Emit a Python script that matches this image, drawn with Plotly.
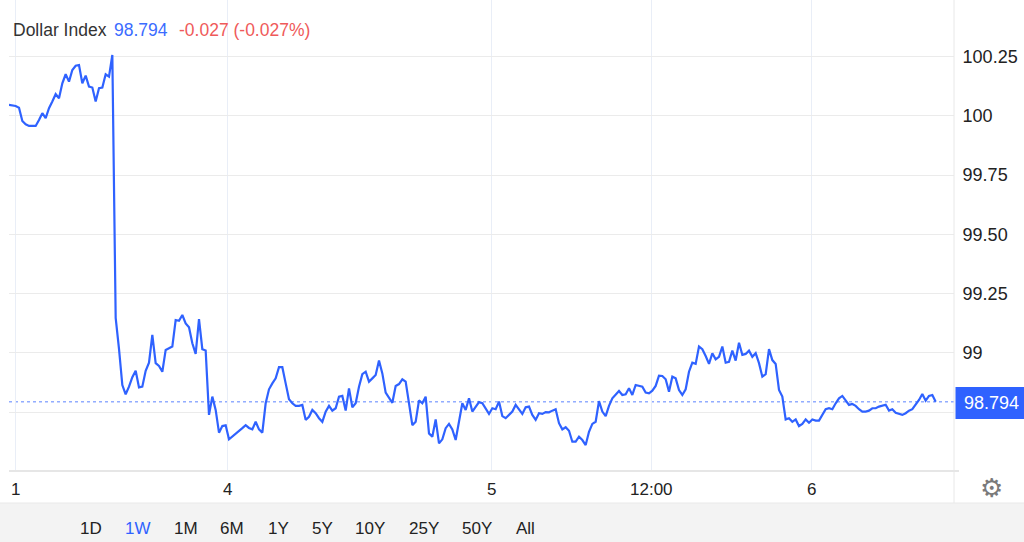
import plotly.graph_objects as go

# ---------------- data ----------------
title_name = "Dollar Index"
last_value = 98.794
change_text = "-0.027 (-0.027%)"

dxy = [
    100.046, 100.043, 100.041, 100.034, 99.978, 99.964, 99.957, 99.957, 99.957, 99.982,
    100.011, 99.990, 100.032, 100.060, 100.091, 100.074, 100.137, 100.175, 100.144, 100.193,
    100.211, 100.214, 100.137, 100.169, 100.123, 100.119, 100.060, 100.116, 100.119, 100.175,
    100.165, 100.256, 99.148, 99.017, 98.865, 98.826, 98.858, 98.898, 98.925, 98.855,
    98.858, 98.925, 98.959, 99.076, 98.957, 98.945, 98.921, 99.013, 99.020, 99.027,
    99.139, 99.136, 99.160, 99.125, 99.108, 99.041, 98.996, 99.143, 99.016, 99.010,
    98.739, 98.816, 98.760, 98.664, 98.692, 98.695, 98.636, 98.647, 98.659, 98.668,
    98.683, 98.696, 98.684, 98.678, 98.710, 98.678, 98.664, 98.788, 98.847, 98.872,
    98.893, 98.940, 98.940, 98.872, 98.805, 98.788, 98.777, 98.777, 98.781, 98.718,
    98.731, 98.760, 98.746, 98.725, 98.710, 98.753, 98.777, 98.757, 98.767, 98.816,
    98.819, 98.757, 98.851, 98.771, 98.788, 98.858, 98.911, 98.921, 98.879, 98.893,
    98.907, 98.968, 98.914, 98.833, 98.809, 98.790, 98.861, 98.869, 98.889, 98.879,
    98.788, 98.696, 98.710, 98.800, 98.788, 98.816, 98.661, 98.647, 98.720, 98.619,
    98.636, 98.683, 98.701, 98.678, 98.633, 98.710, 98.788, 98.760, 98.809, 98.753,
    98.774, 98.793, 98.788, 98.763, 98.743, 98.767, 98.763, 98.795, 98.734, 98.725,
    98.739, 98.753, 98.781, 98.763, 98.743, 98.771, 98.774, 98.739, 98.718, 98.746,
    98.743, 98.751, 98.750, 98.757, 98.763, 98.704, 98.678, 98.687, 98.672, 98.626,
    98.626, 98.647, 98.633, 98.612, 98.668, 98.701, 98.710, 98.797, 98.753, 98.734,
    98.777, 98.809, 98.823, 98.840, 98.823, 98.826, 98.851, 98.823, 98.865, 98.861,
    98.858, 98.833, 98.830, 98.841, 98.861, 98.904, 98.903, 98.889, 98.837, 98.900,
    98.893, 98.844, 98.823, 98.847, 98.921, 98.959, 98.954, 99.027, 99.016, 98.987,
    98.954, 98.999, 98.973, 98.984, 99.027, 98.959, 98.963, 99.010, 98.968, 99.043,
    98.992, 98.996, 99.010, 98.984, 98.999, 98.957, 98.900, 98.911, 99.016, 98.970,
    98.954, 98.844, 98.816, 98.720, 98.725, 98.710, 98.720, 98.692, 98.701, 98.720,
    98.706, 98.720, 98.715, 98.715, 98.739, 98.763, 98.767, 98.763, 98.788, 98.809,
    98.819, 98.799, 98.781, 98.785, 98.777, 98.763, 98.753, 98.753, 98.757, 98.767,
    98.767, 98.774, 98.777, 98.782, 98.757, 98.763, 98.748, 98.743, 98.739, 98.746,
    98.757, 98.763, 98.781, 98.802, 98.827, 98.799, 98.819, 98.823, 98.794,
]
sample_index = list(range(len(dxy)))

x_tick_pos = [1.9, 65.5, 144.7, 192.7, 240.7]
x_tick_text = ["1", "4", "5", "12:00", "6"]

y_tick_vals = [98.75, 99.0, 99.25, 99.5, 99.75, 100.0, 100.25]
y_tick_text = ["", "99", "99.25", "99.50", "99.75", "100", "100.25"]

range_buttons = ["1D", "1W", "1M", "6M", "1Y", "5Y", "10Y", "25Y", "50Y", "All"]
active_button = "1W"

# ---------------- styling ----------------
BLUE = "#2f62ff"
FONT = "Liberation Sans, Arial, sans-serif"
W, H = 1024, 542
ML, MR, MT, MB = 9, 70, 0, 71
PW, PH = W - ML - MR, H - MT - MB


def px_x(p):
    return (p - ML) / PW


def px_y(p):
    return (H - MB - p) / PH


fig = go.Figure()
fig.add_trace(go.Scatter(
    x=sample_index, y=dxy, mode="lines",
    line=dict(color=BLUE, width=2.2),
    hoverinfo="skip", showlegend=False,
))

shapes = []
shapes.append(dict(type="line", xref="paper", yref="y", x0=0, x1=1,
                   y0=last_value, y1=last_value,
                   line=dict(color="#5a82ff", width=1, dash="dot"), layer="below"))
shapes.append(dict(type="line", xref="paper", yref="paper", x0=1, x1=1,
                   y0=1, y1=px_y(503), line=dict(color="#e8e8e8", width=1)))
shapes.append(dict(type="line", xref="paper", yref="paper", x0=px_x(9), x1=px_x(959),
                   y0=0, y1=0, line=dict(color="#e6e6e6", width=2)))
shapes.append(dict(type="rect", xref="paper", yref="paper", x0=px_x(0), x1=px_x(1024),
                   y0=px_y(503), y1=px_y(543), fillcolor="#f3f3f3",
                   line=dict(width=0)))
shapes.append(dict(type="line", xref="paper", yref="paper", x0=px_x(0), x1=px_x(1024),
                   y0=px_y(503), y1=px_y(503), line=dict(color="#e9e9e9", width=1)))
shapes.append(dict(type="rect", xref="paper", yref="paper", x0=px_x(955.5), x1=px_x(1025),
                   y0=px_y(419), y1=px_y(387), fillcolor=BLUE, line=dict(width=0)))

annotations = []
annotations.append(dict(xref="paper", yref="paper", x=px_x(10.5), y=px_y(30),
                        xanchor="left", yanchor="middle", showarrow=False,
                        text=title_name, font=dict(family=FONT, size=17.5, color="#333333")))
annotations.append(dict(xref="paper", yref="paper", x=px_x(112), y=px_y(30),
                        xanchor="left", yanchor="middle", showarrow=False,
                        text=f"{last_value:.3f}", font=dict(family=FONT, size=17.5, color="#3b6cff")))
annotations.append(dict(xref="paper", yref="paper", x=px_x(177), y=px_y(30),
                        xanchor="left", yanchor="middle", showarrow=False,
                        text=change_text, font=dict(family=FONT, size=17.5, color="#ef5a5a")))
annotations.append(dict(xref="paper", yref="paper", x=px_x(962), y=px_y(403),
                        xanchor="left", yanchor="middle", showarrow=False,
                        text=f"{last_value:.3f}", font=dict(family=FONT, size=18, color="white")))
for pos, lab in zip(x_tick_pos, x_tick_text):
    annotations.append(dict(xref="x", yref="paper", x=pos, y=px_y(489),
                            xanchor="center", yanchor="middle", showarrow=False,
                            text=lab, font=dict(family=FONT, size=17, color="#222222")))
annotations.append(dict(xref="paper", yref="paper", x=px_x(992), y=px_y(488),
                        xanchor="center", yanchor="middle", showarrow=False,
                        text="⚙", font=dict(family="DejaVu Sans", size=26, color="#7a7a7a")))
btn_x = [91, 138, 186, 232, 278, 322, 370, 424, 477, 525]
for bx, lab in zip(btn_x, range_buttons):
    annotations.append(dict(xref="paper", yref="paper", x=px_x(bx), y=px_y(528),
                            xanchor="center", yanchor="middle", showarrow=False,
                            text=lab, font=dict(family=FONT, size=17,
                                                color=BLUE if lab == active_button else "#222222")))

fig.update_layout(
    width=W, height=H,
    margin=dict(l=ML, r=MR, t=MT, b=MB, pad=0),
    paper_bgcolor="white", plot_bgcolor="white",
    showlegend=False,
    shapes=shapes, annotations=annotations,
    xaxis=dict(range=[0, 283.5], tickvals=x_tick_pos, ticktext=["" for _ in x_tick_pos],
               showgrid=True, gridcolor="#e9eef7", gridwidth=1,
               zeroline=False, showline=False, ticks="", fixedrange=True),
    yaxis=dict(range=[98.5025, 100.488], side="right", tickvals=y_tick_vals,
               ticktext=y_tick_text, showgrid=True, gridcolor="#ebebeb", gridwidth=1,
               zeroline=False, showline=False, ticks="outside", ticklen=4,
               tickcolor="rgba(0,0,0,0)",
               tickfont=dict(family=FONT, size=18, color="#222222"),
               fixedrange=True),
)

fig.write_html("out.html", config={"displayModeBar": False},
               post_script="document.body.style.margin='0';document.body.style.overflow='hidden';")
